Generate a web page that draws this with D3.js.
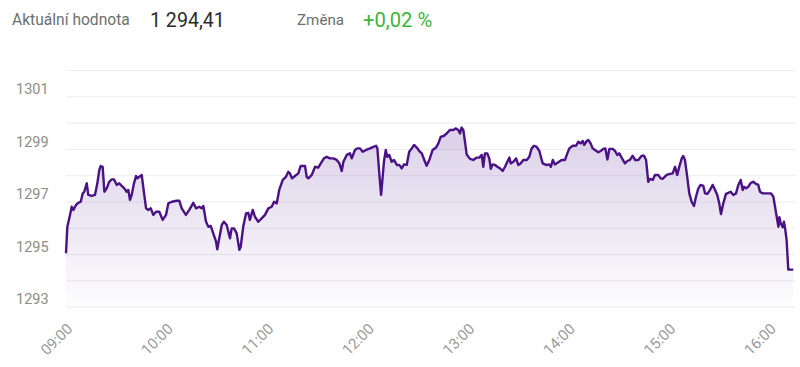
<!DOCTYPE html>
<html>
<head>
<meta charset="utf-8">
<script src="https://cdn.jsdelivr.net/npm/d3@7"></script>
<style>
  html, body { margin: 0; padding: 0; background: #fff; }
  body { width: 800px; height: 367px; overflow: hidden; font-family: Roboto, "Noto Sans", sans-serif; }
</style>
</head>
<body>
<svg id="chart" width="800" height="367"></svg>
<script>
// ---- data ----
const headerLabel = "Aktuální hodnota";
const headerValue = "1 294,41";
const changeLabel = "Změna";
const changeValue = "+0,02 %";

const minutesAfterOpen = [
  0,0.8,2.4,3.4,4.4,6.0,7.3,8.8,10.0,10.9,12.4,13.3,15.3,17.3,18.7,19.9,20.7,21.9,22.9,24.3,
  25.8,27.3,28.7,30.3,31.8,33.3,34.8,36.2,37.2,38.2,39.2,40.6,41.8,42.6,43.8,45.2,46.1,47.8,49.1,50.6,
  52.1,53.7,55.7,57.7,59.7,61.1,63.1,66.1,67.6,69.1,71.0,
  71.6,73.6,76.0,77.6,79.6,81.0,82.0,83.6,85.0,86.4,87.9,89.6,90.3,91.5,93.0,94.3,95.9,97.9,98.9,100.3,
  101.9,103.5,104.3,105.8,107.5,108.8,109.8,111.5,112.8,114.8,116.8,118.8,120.8,122.8,124.2,125.8,127.3,129.4,131.3,132.7,
  133.7,134.9,136.7,138.7,140.1,142.7,
  143.7,144.7,146.7,148.7,150.6,152.1,154.0,155.6,157.6,159.6,161.6,163.2,164.6,165.6,167.6,169.5,170.6,172.5,173.9,175.5,
  177.1,179.1,181.5,183.5,185.1,185.9,187.1,188.1,188.8,189.8,190.9,191.8,193.0,194.4,195.8,197.5,199.0,200.4,201.8,203.4,
  204.9,206.4,207.8,209.4,210.9,212.4,
  214.3,215.3,216.9,218.9,220.9,222.3,223.7,225.7,227.3,229.2,231.2,232.8,234.2,235.2,236.2,237.2,238.2,239.2,241.2,243.2,
  245.2,246.7,248.2,249.1,250.1,251.5,252.7,253.6,254.7,256.1,257.5,259.1,260.7,262.1,263.5,264.7,265.5,267.1,268.7,270.0,
  271.5,273.0,275.1,276.6,278.0,279.4,281.0,282.6,284.0,
  284.6,286.6,288.5,289.5,290.6,291.9,293.9,295.9,297.9,299.3,300.5,302.5,304.5,305.8,307.3,308.5,309.4,310.9,311.8,313.2,
  314.4,315.8,317.8,319.2,320.8,322.0,323.2,324.4,326.4,327.8,329.1,330.3,331.7,333.7,335.1,336.7,338.3,339.7,341.7,343.7,
  345.1,346.3,347.6,348.6,350.3,351.6,353.6,355.0,356.2,
  358.6,360.6,362.2,363.6,364.9,366.1,367.6,368.5,369.5,370.6,372.1,373.5,374.9,376.1,377.5,378.9,380.5,381.5,382.9,384.5,
  386.1,387.5,388.8,390.0,391.0,392.4,394.0,395.4,396.8,398.4,400.0,401.4,402.8,404.0,404.8,406.0,407.3,408.8,410.3,411.9,
  413.3,414.3,415.9,418.3,420.9,422.3,423.3,424.3,425.3,425.9,426.7,427.9,428.6,429.4,430.2,431.2,432.7,434.2
];

const prices = [
  1295.03,1296.04,1296.49,1296.80,1296.68,1296.87,1296.95,1296.99,1297.31,1297.37,
  1297.69,1297.25,1297.21,1297.25,1297.69,1298.20,1298.35,1298.32,1297.37,1297.50,
  1297.75,1297.84,1297.84,1297.63,1297.69,1297.59,1297.50,1297.37,1297.44,1297.06,
  1297.25,1297.69,1297.97,1297.88,1297.94,1298.01,1297.56,1296.74,1296.68,1296.74,
  1296.49,1296.61,1296.61,1296.30,1296.49,1296.93,1296.99,1297.03,1297.03,1296.74,
  1296.55,
  1296.49,1296.68,1296.95,1296.74,1296.80,1296.74,1296.83,1296.23,1296.04,1296.07,
  1295.79,1295.47,1295.18,1295.60,1296.11,1296.23,1296.11,1295.60,1295.98,1295.98,
  1295.79,1295.16,1295.28,1296.04,1296.55,1296.57,1296.30,1296.68,1296.42,1296.23,
  1296.36,1296.49,1296.74,1296.80,1296.99,1296.93,1297.44,1297.82,1297.94,1298.13,
  1298.07,1297.88,1297.97,1298.07,1298.35,1298.35,
  1297.94,1297.88,1298.01,1298.32,1298.29,1298.45,1298.64,1298.70,1298.64,1298.64,
  1298.58,1298.45,1298.16,1298.51,1298.77,1298.83,1298.64,1298.96,1299.02,1299.02,
  1298.89,1298.96,1299.02,1299.08,1299.12,1299.02,1298.01,1297.25,1297.75,1298.51,
  1298.96,1298.70,1298.77,1298.51,1298.58,1298.39,1298.39,1298.26,1298.41,1298.39,
  1298.89,1299.02,1299.15,1299.05,1298.92,1298.83,
  1298.51,1298.36,1298.58,1298.96,1299.05,1299.21,1299.46,1299.50,1299.59,1299.72,
  1299.72,1299.78,1299.72,1299.59,1299.81,1299.72,1299.27,1298.79,1298.62,1298.58,
  1298.67,1298.67,1298.77,1298.32,1298.83,1298.83,1298.64,1298.24,1298.41,1298.39,
  1298.32,1298.26,1298.16,1298.32,1298.51,1298.67,1298.45,1298.51,1298.64,1298.39,
  1298.45,1298.58,1298.58,1298.70,1299.02,1299.12,1299.08,1298.92,1298.58,
  1298.45,1298.39,1298.41,1298.32,1298.58,1298.41,1298.49,1298.58,1298.58,1298.83,
  1299.02,1299.12,1299.12,1299.27,1299.21,1299.30,1299.15,1299.30,1299.34,1299.21,
  1299.02,1298.96,1298.87,1298.92,1299.00,1299.02,1298.60,1299.00,1299.00,1298.92,
  1298.77,1298.83,1298.67,1298.45,1298.54,1298.58,1298.74,1298.58,1298.58,1298.74,
  1298.74,1298.58,1297.75,1297.86,1297.82,1298.01,1298.01,1297.88,1297.86,
  1298.01,1298.05,1298.07,1298.32,1298.01,1298.32,1298.64,1298.73,1298.58,1298.07,
  1297.31,1296.99,1296.83,1297.18,1297.50,1297.63,1297.59,1297.31,1297.29,1297.44,
  1297.63,1297.44,1297.25,1296.93,1296.52,1296.93,1297.29,1297.33,1297.37,1297.25,
  1297.31,1297.63,1297.82,1297.44,1297.56,1297.50,1297.56,1297.71,1297.75,1297.67,
  1297.63,1297.37,1297.31,1297.31,1297.31,1297.18,1296.80,1296.42,1296.04,1296.40,
  1296.17,1296.02,1296.23,1295.94,1295.54,1294.41,1294.41,1294.41
];

const yTickLabels = [1293, 1295, 1297, 1299, 1301];
const yGridValues = [1293, 1294, 1295, 1296, 1297, 1298, 1299, 1300, 1301, 1302];
const xTickHours = ["09:00", "10:00", "11:00", "12:00", "13:00", "14:00", "15:00", "16:00"];

// ---- build ----
const base = new Date(2024, 0, 2, 9, 0, 0);
const toDate = m => new Date(base.getTime() + m * 60000);
const parseHM = d3.timeParse("%H:%M");
const hourDates = xTickHours.map(s => { const p = parseHM(s); return new Date(2024, 0, 2, p.getHours(), p.getMinutes()); });
const data = minutesAfterOpen.map((m, i) => ({ t: toDate(m), v: prices[i] }));

const svg = d3.select("#chart");
const plotLeft = 66, plotRight = 793.3, plotTop = 70, plotBottom = 306.7;

const x = d3.scaleTime()
  .domain([toDate(0), toDate(minutesAfterOpen[minutesAfterOpen.length - 1])])
  .range([plotLeft, plotRight]);
const y = d3.scaleLinear().domain([1293, 1302]).range([plotBottom, plotTop]);

// header
const hdr = svg.append("g");
hdr.append("text").attr("x", 12).attr("y", 25).attr("font-size", 15.6).attr("fill", "#6f6f6f").text(headerLabel);
hdr.append("text").attr("x", 150).attr("y", 26.5).attr("font-size", 19.6).attr("fill", "#2b2b2b").text(headerValue);
hdr.append("text").attr("x", 297).attr("y", 25).attr("font-size", 15.2).attr("fill", "#6f6f6f").text(changeLabel);
hdr.append("text").attr("x", 363).attr("y", 26.5).attr("font-size", 20.2).attr("fill", "#3db53d").text(changeValue);

// gradient
const defs = svg.append("defs");
const grad = defs.append("linearGradient").attr("id", "fillGrad")
  .attr("gradientUnits", "userSpaceOnUse")
  .attr("x1", 0).attr("x2", 0).attr("y1", y(d3.max(prices))).attr("y2", plotBottom);
grad.append("stop").attr("offset", "0%").attr("stop-color", "#5a2a96").attr("stop-opacity", 0.22);
grad.append("stop").attr("offset", "100%").attr("stop-color", "#5a2a96").attr("stop-opacity", 0.01);

// gridlines
svg.append("g")
  .attr("transform", `translate(${plotLeft},0)`)
  .call(d3.axisLeft(y).tickValues(yGridValues).tickSize(-(plotRight + 2 - plotLeft)).tickFormat(""))
  .call(g => g.select(".domain").remove())
  .call(g => g.selectAll("line").attr("stroke", "#ececf2").attr("stroke-width", 1));

// y labels
svg.append("g")
  .attr("transform", `translate(${plotLeft},0)`)
  .call(d3.axisLeft(y).tickValues(yTickLabels).tickSize(0).tickFormat(d3.format("d")))
  .call(g => g.select(".domain").remove())
  .call(g => g.selectAll("text")
    .attr("text-anchor", "start")
    .attr("x", 16 - plotLeft)
    .attr("dy", "-0.2em")
    .attr("font-size", 14.5)
    .attr("font-family", "Roboto, sans-serif")
    .attr("fill", "#8c8c8c"));

// area + line
const area = d3.area().x(d => x(d.t)).y0(plotBottom).y1(d => y(d.v));
svg.append("path").datum(data).attr("d", area).attr("fill", "url(#fillGrad)");
const line = d3.line().x(d => x(d.t)).y(d => y(d.v));
svg.append("path").datum(data).attr("d", line)
  .attr("fill", "none").attr("stroke", "#4a1284").attr("stroke-width", 2.4)
  .attr("stroke-linejoin", "round");

// x axis
svg.append("g")
  .attr("transform", `translate(0,${plotBottom})`)
  .call(d3.axisBottom(x).tickValues(hourDates).tickSize(0).tickFormat(d3.timeFormat("%H:%M")))
  .call(g => g.select(".domain").remove())
  .call(g => g.selectAll("text")
    .attr("text-anchor", "end")
    .attr("font-size", 15)
    .attr("font-family", "Roboto, sans-serif")
    .attr("fill", "#9a9a9a")
    .attr("y", 0).attr("dy", 0)
    .attr("transform", "translate(7,23) rotate(-45)"));
</script>
</body>
</html>
